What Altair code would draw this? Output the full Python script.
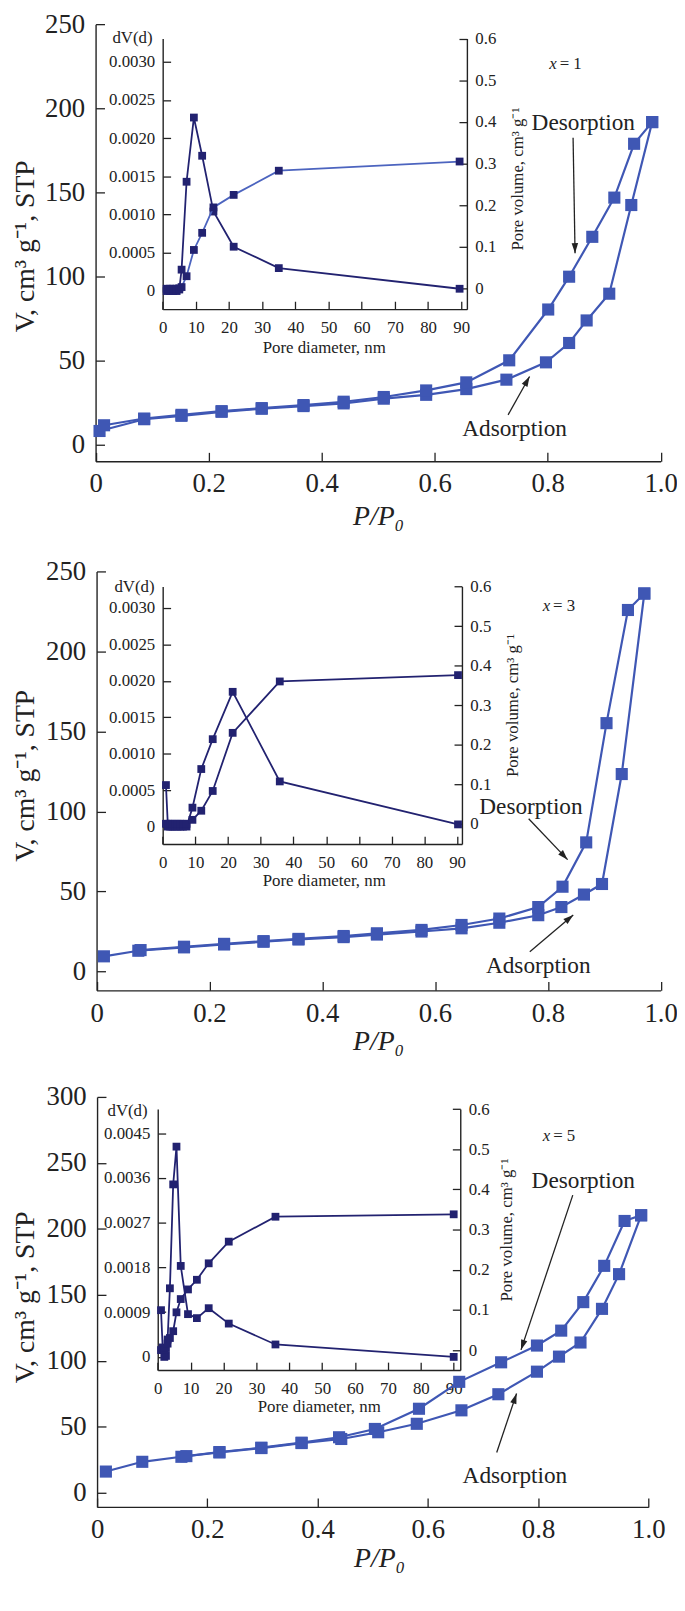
import math
import altair as alt
import pandas as pd

FONT = "'Liberation Serif', 'Times New Roman', serif"
BLUE = "#3f57b4"
NAVY = "#222270"
LIGHT = "#4c64bf"
INK = "#222222"
W, H = 676, 1590

# ---------------- data: panel 1 (x = 1) ----------------
P1_ADS_P = [0.007, 0.086, 0.152, 0.223, 0.294, 0.368, 0.439, 0.510, 0.585, 0.656, 0.727, 0.797, 0.838, 0.869, 0.909, 0.948, 0.985]
P1_ADS_V = [8.2, 15.2, 17.2, 19.6, 21.4, 23.0, 24.6, 27.4, 29.7, 33.1, 38.7, 49.0, 60.5, 73.9, 89.8, 142.5, 191.8]
P1_DES_P = [0.985, 0.953, 0.918, 0.879, 0.838, 0.801, 0.732, 0.656, 0.585, 0.510, 0.439, 0.368, 0.294, 0.223, 0.152, 0.086, 0.015]
P1_DES_V = [191.8, 178.9, 146.9, 123.6, 99.9, 80.4, 50.2, 37.1, 32.3, 28.4, 25.6, 23.6, 21.8, 20.0, 17.8, 15.6, 11.6]
P1_PORE_D = [1.2, 2.2, 3.2, 4.2, 5.0, 5.7, 7.2, 9.4, 11.9, 15.3, 21.4, 35.0, 89.5]
P1_DVD = [0, 0, 0, 0, 0.00002, 0.00028, 0.00143, 0.00227, 0.00177, 0.00104, 0.00058, 0.00030, 0.00003]
P1_PORE_VOL = [0, 0, 0, 0, 0.001, 0.004, 0.030, 0.093, 0.134, 0.195, 0.225, 0.283, 0.305]

# ---------------- data: panel 2 (x = 3) ----------------
P2_ADS_P = [0.013, 0.074, 0.155, 0.226, 0.296, 0.358, 0.438, 0.497, 0.576, 0.647, 0.714, 0.783, 0.824, 0.864, 0.896, 0.931, 0.971]
P2_ADS_V = [9.5, 13.0, 15.1, 16.9, 18.6, 20.0, 21.5, 23.1, 25.0, 27.0, 30.5, 35.2, 40.3, 48.1, 54.7, 123.4, 236.2]
P2_DES_P = [0.971, 0.942, 0.904, 0.868, 0.826, 0.783, 0.714, 0.647, 0.576, 0.497, 0.438, 0.358, 0.296, 0.226, 0.155, 0.078]
P2_DES_V = [236.2, 225.9, 155.2, 80.7, 53.0, 40.3, 33.1, 29.1, 26.0, 23.9, 22.2, 20.4, 19.0, 17.3, 15.5, 13.4]
P2_PORE_D = [1.0, 1.6, 2.3, 3.0, 3.8, 4.6, 5.4, 6.2, 7.3, 9.1, 11.8, 15.3, 21.4, 35.8, 90.3]
P2_DVD = [0.00057, 0, 0, 0, 0, 0, 0, 0, 0, 0.00026, 0.00079, 0.00120, 0.00185, 0.00062, 0.00003]
P2_PORE_VOL = [0, 0, 0, 0, 0, 0, 0, 0, 0, 0.010, 0.033, 0.083, 0.230, 0.360, 0.376]

# ---------------- data: panel 3 (x = 5) ----------------
P3_ADS_P = [0.016, 0.082, 0.153, 0.222, 0.298, 0.371, 0.443, 0.510, 0.580, 0.661, 0.728, 0.798, 0.838, 0.877, 0.916, 0.947, 0.987]
P3_ADS_V = [16.1, 23.5, 27.3, 30.6, 33.9, 37.7, 40.8, 45.9, 52.3, 62.5, 74.7, 91.8, 103.2, 113.9, 139.4, 165.7, 210.3]
P3_DES_P = [0.987, 0.957, 0.920, 0.882, 0.842, 0.798, 0.733, 0.657, 0.584, 0.504, 0.439, 0.371, 0.298, 0.222, 0.162]
P3_DES_V = [210.3, 206.0, 172.0, 144.5, 122.9, 111.6, 98.9, 84.1, 63.7, 48.4, 42.1, 38.0, 34.2, 30.9, 27.8]
P3_PORE_D = [1.0, 1.5, 2.0, 2.5, 3.0, 3.7, 4.7, 5.7, 7.0, 9.2, 11.9, 15.5, 21.6, 35.8, 90.0]
P3_DVD = [0.00094, 0.00019, 0, 0.00002, 0.00035, 0.00138, 0.00347, 0.00423, 0.00183, 0.00086, 0.00078, 0.00098, 0.00067, 0.00025, 0.0]
P3_PORE_VOL = [0, 0, 0, 0.005, 0.016, 0.030, 0.047, 0.094, 0.127, 0.151, 0.175, 0.216, 0.270, 0.332, 0.338]

# ---------------- tick values ----------------
X_TICKS = [0, 0.2, 0.4, 0.6, 0.8, 1.0]
V_TICKS_250 = [0, 50, 100, 150, 200, 250]
V_TICKS_300 = [0, 50, 100, 150, 200, 250, 300]
D_TICKS = [0, 10, 20, 30, 40, 50, 60, 70, 80, 90]
DV_TICKS_A = [0, 0.0005, 0.0010, 0.0015, 0.0020, 0.0025, 0.0030]
DV_TICKS_B = [0, 0.0009, 0.0018, 0.0027, 0.0036, 0.0045]
PV_TICKS = [0, 0.1, 0.2, 0.3, 0.4, 0.5, 0.6]

# ---------------- annotation texts (data coordinates) ----------------
P1_NOTE = ["1", 0.816, 226.5]
P2_NOTE = ["3", 0.804, 228.2]
P3_NOTE = ["5", 0.822, 270.2]
P1_LABELS = [["Desorption", 0.863, 191.2], ["Adsorption", 0.7415, 9.2]]
P2_LABELS = [["Desorption", 0.770, 102.5], ["Adsorption", 0.783, 3.5]]
P3_LABELS = [["Desorption", 0.882, 236.5], ["Adsorption", 0.758, 12.7]]
P1_ARROWS = [[0.845, 182.5, 0.8485, 113.8], [0.730, 17.8, 0.768, 40.6]]
P2_ARROWS = [[0.766, 95.5, 0.835, 69.9], [0.768, 12.4, 0.845, 35.3]]
P3_ARROWS = [[0.863, 225.6, 0.769, 108.3], [0.725, 30.6, 0.761, 75.2]]

# ---------------- layout (canvas pixels) ----------------
LAY = [
    dict(xr=[88.5, 659.5], ydom=[-9.8, 250], yr=[449.7, 8], vt=V_TICKS_250, ytY=232, xt=[374, 56],
         ixr=[156.3, 463.7], iyr=[296, 22.5], ixdom=[0, 91.7], ildom=[-0.000237, 0.003304],
         irdom=[-0.049, 0.6], lt=DV_TICKS_A, ixt=[319, 39], dvt=[-31, 22], pvt=[51, 164]),
    dict(xr=[89.5, 659.5], ydom=[-11.75, 250], yr=[984.3, 561], vt=V_TICKS_250, ytY=767, xt=[374, 52],
         ixr=[156.3, 458.7], iyr=[836.5, 576.3], ixdom=[0, 91.5], ildom=[-0.00024, 0.003295],
         irdom=[-0.0513, 0.6], lt=DV_TICKS_A, ixt=[319, 37], dvt=[-29, 576.3], pvt=[51, 696]),
    dict(xr=[90, 647], ydom=[-10.7, 300], yr=[1506.3, 1092], vt=V_TICKS_300, ytY=1294, xt=[375, 52],
         ixr=[151.3, 457], iyr=[1368, 1104.3], ixdom=[0, 92], ildom=[-0.000265, 0.004985],
         irdom=[-0.0498, 0.6], lt=DV_TICKS_B, ixt=[314, 37], dvt=[-31, 1105.3], pvt=[47, 1226]),
]

FMT_ZERO_1 = "datum.value == 0 ? '0' : format(datum.value, '.1f')"
FMT_ZERO_4 = "datum.value == 0 ? '0' : format(datum.value, '.4f')"
FMT_INT = "format(datum.value, 'd')"
HEAD = "M0,0L-0.32,1L0.32,1Z"


def lin(domain, rng):
    return alt.Scale(domain=domain, range=rng, zero=False, nice=False)


def axis(orient, offset, values, fs, pad, tick, title, tfs, tx, ty, angle, fmt, style="normal"):
    return alt.Axis(
        orient=orient, offset=offset, values=values, labelExpr=fmt, grid=False,
        labelFont=FONT, labelFontSize=fs, labelColor=INK, labelPadding=pad,
        labelFlush=False, labelOverlap=False,
        tickSize={"expr": str(-tick)}, tickColor=INK, tickWidth=1.3,
        domainColor=INK, domainWidth=1.4,
        title=title, titleFont=FONT, titleFontSize=tfs, titleFontWeight="normal",
        titleFontStyle=style, titleColor=INK, titleAngle=angle, titleX=tx, titleY=ty,
        titleAlign="center", titleBaseline="middle",
    )


def main_group(lay, ads_p, ads_v, des_p, des_v, note, labels, arrows):
    xs = lin([0, 1], lay["xr"])
    ys = lin(lay["ydom"], lay["yr"])
    xax = axis("bottom", lay["yr"][0] - H, X_TICKS, 27, 19, 9, "P/P\u2080", 28,
               lay["xt"][0], lay["xt"][1], 0, FMT_ZERO_1, "italic")
    yax = axis("left", -lay["xr"][0], lay["vt"], 27, 20, 9, "V, cm\u00b3 g\u207b\u00b9, STP", 28,
               18 - lay["xr"][0], lay["ytY"], 270, FMT_INT)
    X = alt.X("P:Q", scale=xs, axis=xax)
    Y = alt.Y("V:Q", scale=ys, axis=yax)

    df = pd.DataFrame({
        "P": ads_p + des_p,
        "V": ads_v + des_v,
        "branch": ["Adsorption"] * len(ads_p) + ["Desorption"] * len(des_p),
    })
    base = alt.Chart(df).encode(X, Y)
    lines = base.mark_line(color=BLUE, strokeWidth=2.2).encode(detail="branch:N")
    pts = base.mark_square(color=BLUE, size=150, opacity=1)

    ldf = pd.DataFrame({"text": [l[0] for l in labels], "P": [l[1] for l in labels], "V": [l[2] for l in labels]})
    texts = alt.Chart(ldf).mark_text(font=FONT, fontSize=23.5, color=INK, align="center",
                                     baseline="middle").encode(X, Y, text="text:N")

    ndf = pd.DataFrame({"P": [note[1]], "V": [note[2]], "a": ["x"], "b": ["= " + note[0]]})
    nx = alt.Chart(ndf).mark_text(font=FONT, fontSize=17, fontStyle="italic", color=INK,
                                  align="right", baseline="middle").encode(X, Y, text="a:N")
    nb = alt.Chart(ndf).mark_text(font=FONT, fontSize=17, color=INK, align="left", dx=3,
                                  baseline="middle").encode(X, Y, text="b:N")

    sx = (lay["xr"][1] - lay["xr"][0])
    sy = (lay["yr"][0] - lay["yr"][1]) / (lay["ydom"][1] - lay["ydom"][0])
    adf = pd.DataFrame({
        "P": [a[0] for a in arrows], "V": [a[1] for a in arrows],
        "P2": [a[2] for a in arrows], "V2": [a[3] for a in arrows],
    })
    hdf = pd.DataFrame({
        "P": [a[2] for a in arrows], "V": [a[3] for a in arrows],
        "ang": [math.degrees(math.atan2((a[2] - a[0]) * sx, (a[3] - a[1]) * sy)) % 360 for a in arrows],
    })
    rules = alt.Chart(adf).mark_rule(color=INK, strokeWidth=1.3).encode(X, Y, x2="P2:Q", y2="V2:Q")
    heads = alt.Chart(hdf).mark_point(shape=HEAD, filled=True, color=INK, opacity=1, size=420,
                                      strokeWidth=0).encode(X, Y, angle=alt.Angle("ang:Q", scale=None))
    return alt.layer(lines, pts, texts, nx, nb, rules, heads)


def inset_groups(lay, d, dv, pv, pv_color):
    df = pd.DataFrame({"d": d, "dv": dv, "pv": pv})
    xs = lin(lay["ixdom"], lay["ixr"])
    yl = lin(lay["ildom"], lay["iyr"])
    yr = lin(lay["irdom"], lay["iyr"])
    xax = axis("bottom", lay["iyr"][0] - H, D_TICKS, 17, 19, 8, "Pore diameter, nm", 17,
               lay["ixt"][0], lay["ixt"][1], 0, FMT_INT)
    lax = axis("left", -lay["ixr"][0], lay["lt"], 17, 16, 8, "dV(d)", 17,
               lay["dvt"][0], lay["dvt"][1], 0, FMT_ZERO_4)
    rax = axis("right", lay["ixr"][1] - W, PV_TICKS, 17, 16, 8, "Pore volume, cm\u00b3 g\u207b\u00b9", 17,
               lay["pvt"][0], lay["pvt"][1], 270, FMT_ZERO_1)
    dv_base = alt.Chart(df).encode(alt.X("d:Q", scale=xs, axis=xax), alt.Y("dv:Q", scale=yl, axis=lax))
    dv_layer = alt.layer(dv_base.mark_line(color=NAVY, strokeWidth=1.8),
                         dv_base.mark_square(color=NAVY, size=62, opacity=1))
    pv_base = alt.Chart(df).encode(alt.X("d:Q", scale=xs, axis=None), alt.Y("pv:Q", scale=yr, axis=rax))
    pv_layer = alt.layer(pv_base.mark_line(color=pv_color, strokeWidth=1.8),
                         pv_base.mark_square(color=NAVY, size=62, opacity=1))
    return [dv_layer, pv_layer]


layers = []
layers.append(main_group(LAY[0], P1_ADS_P, P1_ADS_V, P1_DES_P, P1_DES_V, P1_NOTE, P1_LABELS, P1_ARROWS))
layers += inset_groups(LAY[0], P1_PORE_D, P1_DVD, P1_PORE_VOL, LIGHT)
layers.append(main_group(LAY[1], P2_ADS_P, P2_ADS_V, P2_DES_P, P2_DES_V, P2_NOTE, P2_LABELS, P2_ARROWS))
layers += inset_groups(LAY[1], P2_PORE_D, P2_DVD, P2_PORE_VOL, NAVY)
layers.append(main_group(LAY[2], P3_ADS_P, P3_ADS_V, P3_DES_P, P3_DES_V, P3_NOTE, P3_LABELS, P3_ARROWS))
layers += inset_groups(LAY[2], P3_PORE_D, P3_DVD, P3_PORE_VOL, NAVY)

chart = (
    alt.layer(*layers)
    .resolve_scale(x="independent", y="independent")
    .properties(width=W, height=H, autosize=alt.AutoSizeParams(type="none"), padding=0)
    .configure_view(stroke="transparent")
)

chart.save("out.html", embed_options={"renderer": "svg", "actions": False})
